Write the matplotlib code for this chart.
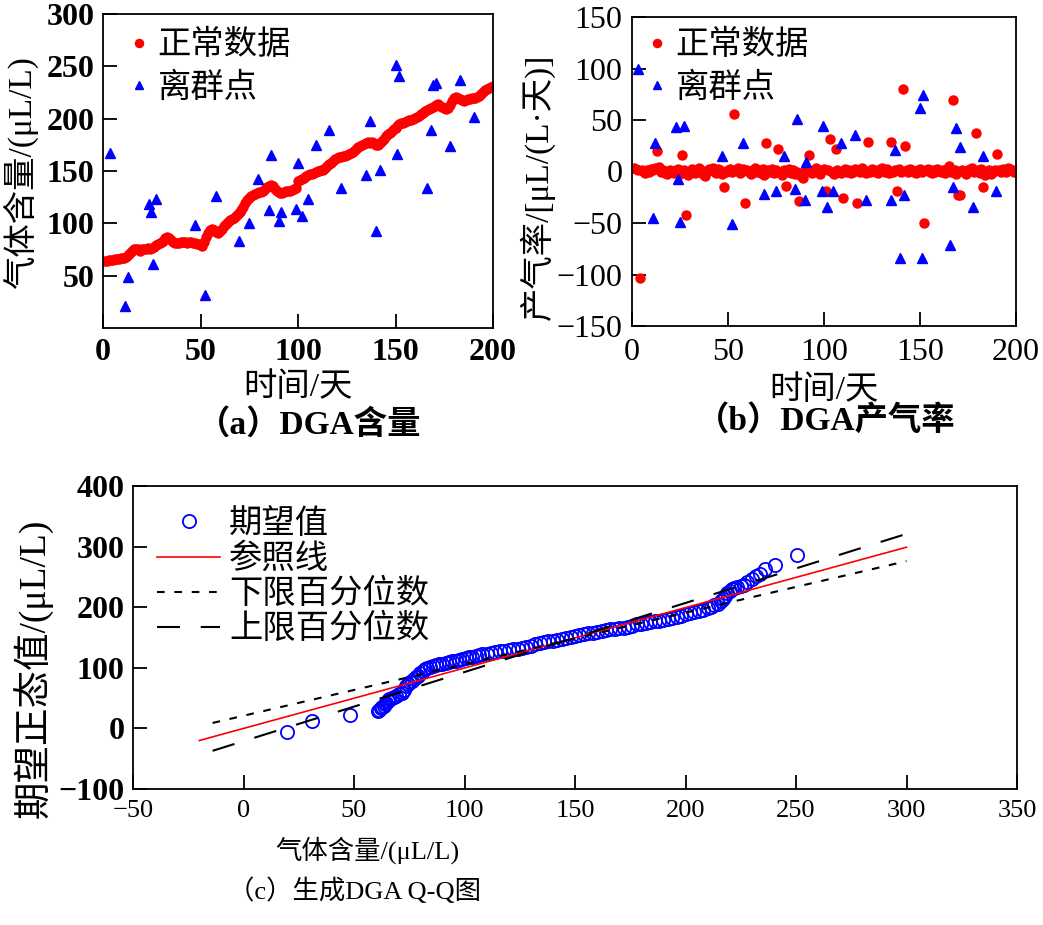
import numpy as np
import matplotlib
matplotlib.use('Agg')
import matplotlib.pyplot as plt

plt.rcParams['font.family'] = ['Liberation Serif', 'Noto Sans CJK SC']
plt.rcParams['axes.unicode_minus'] = True
plt.rcParams['lines.scale_dashes'] = False

# ---- data ----
days = np.arange(1, 201)

# (a) gas content, normal data, one value per day
content_normal = [
    64, 64, 65, 65, 65, 66, 66, 66, 67, 67,
    67, 68, 70, 72, 74, 75, 75, 75, 74, 75,
    75, 75, 76, 75, 76, 77, 79, 80, 81, 82,
    83, 86, 87, 86, 84, 82, 81, 81, 81, 82,
    82, 82, 81, 82, 82, 81, 81, 80, 80, 79,
    78, 82, 87, 91, 94, 95, 94, 92, 91, 93,
    95, 97, 99, 101, 103, 104, 105, 107, 109, 111,
    113, 116, 119, 122, 124, 126, 127, 128, 129, 130,
    130, 131, 133, 135, 136, 137, 136, 133, 131, 130,
    129, 129, 130, 131, 131, 131, 132, 133, 134, 140,
    141, 142, 143, 145, 146, 147, 147, 148, 149, 150,
    150, 151, 151, 153, 155, 157, 158, 160, 161, 162,
    163, 163, 164, 164, 165, 166, 167, 168, 170, 172,
    173, 174, 175, 176, 177, 178, 177, 178, 177, 175,
    175, 177, 179, 181, 183, 185, 186, 188, 190, 191,
    193, 195, 196, 196, 197, 198, 199, 199, 200, 201,
    202, 203, 204, 205, 207, 208, 209, 210, 211, 212,
    213, 214, 212, 211, 210, 209, 210, 213, 217, 220,
    221, 220, 219, 218, 217, 218, 219, 219, 220, 220,
    220, 221, 222, 224, 225, 227, 228, 229, 230, 231,
]
content_out_x = [3.4, 12.6, 11.4, 23.4, 24.6, 27.3, 25.4, 47.4, 52.4, 58,
                 69.5, 75, 79.4, 85.3, 86.3, 90.4, 91.3, 99, 100, 102,
                 105, 109, 116, 122, 135, 137, 140, 142, 150, 152,
                 151, 166, 168, 169, 171, 178, 183, 190]
content_out_y = [167, 49, 21, 118, 111, 123, 61, 98, 32, 126,
                 83, 100, 142, 113, 165, 102, 111, 114, 158, 107,
                 123, 175, 189, 134, 146, 198, 93, 151, 251, 241,
                 166, 134, 189, 232, 234, 174, 237, 202]

# (b) gas production rate, normal data, one value per day
rate_normal = [
    3, 2, 1, -103, 1, 0, -1, 1, 0, 2,
    1, 3, 20, 4, 0, 1, -1, -2, 0, 1,
    0, -1, 1, 2, -2, 16, 1, -42, -3, 0,
    2, 1, -1, 0, 3, 1, -2, -4, 0, 2,
    1, 3, 0, -1, 2, 1, -2, -15, 0, 1,
    2, 0, 56, 1, 3, -1, 0, 2, -31, 1,
    0, -2, 1, 3, 0, 1, -1, 2, -3, 28,
    1, 0, 2, -1, 1, 22, 0, -3, 1, -14,
    0, 2, -1, 1, -2, 0, -29, -4, -6, 1,
    2, 16, 0, -1, 1, 3, 0, -2, 1, 2,
    -19, 1, 32, 0, -2, 22, 1, 0, -1, -26,
    2, 0, 1, -1, 0, 2, -31, 1, 0, 3,
    1, -1, 28.5, 0, 2, 1, 0, -1, 2, 3,
    1, 0, 2, -1, 29, 0, 1, -19, 2, 0,
    80, 25, 1, 0, 2, 1, 0, -1, 1, 2,
    0, -50, 1, 2, 0, -1, 1, 0, 2, 1,
    0, 1, -1, 2, 5, 0, 69, 1, -2, -23,
    -23, 1, 0, -2, 1, 2, 3, 0, 37, 1,
    -1, 2, -15, -3, 0, 1, -2, 0, 1, 17,
    1, 0, 2, 1, 0, 3, 2, 1, 0, 1,
]
rate_out_x = [3, 10.8, 11.8, 23, 27, 24, 24.8, 47, 52, 58,
              69, 75, 79, 84.7, 85.8, 90, 90.8, 98.8, 99.7, 101.7,
              104.9, 108.7, 116, 121.7, 135, 136.8, 139.8, 141.8, 150, 150.9,
              151.7, 165.5, 167.4, 168.6, 170.7, 177.6, 182.6, 189.6]
rate_out_y = [100, -45, 28, 43, 44, -7, -49, 15, -51, 28,
              -22, -19, 15, -17, 51, -28, 9, -19, 44, -34,
              -19, 28, 35, -28, -28, 21, -84, -23, 62, -84,
              74, -71, -15, 42, 24, -34, 15, -19]

# (c) Q-Q plot
qq_x = [19.8, 31.1, 48.3, 60.8, 61.5, 62.3, 62.8, 63.4, 63.9, 64.5,
        65.2, 66.0, 67.0, 68.0, 69.0, 70.3, 71.5, 72.8, 73.6, 74.5,
        75.3, 76.2, 77.0, 78.0, 79.0, 80.0, 81.0, 82.0, 83.2, 84.5,
        85.8, 87.0, 88.5, 90.0, 91.5, 93.0, 94.5, 96.0, 97.5, 99.0,
        100.5, 102.0, 103.5, 105.0, 106.5, 108.0, 110.0, 112.0, 114.0, 116.0,
        118, 120, 122, 124, 126, 128, 130, 132, 134, 136,
        138, 140, 142, 144, 146, 148, 150, 152, 154, 156,
        158, 160, 162, 164, 166, 168, 170, 172, 174, 176,
        178, 180, 182, 184, 186, 188, 190, 192, 194, 196,
        198, 200, 202, 204, 206, 208, 210, 211.5, 213, 214.5,
        216, 217, 218, 219, 220, 221, 222, 223.5, 225, 226.5,
        228, 230, 232, 233.5, 236, 240.5, 250.3]
qq_y = [-6.6, 11.5, 22, 28, 30.5, 33, 35, 37.5, 40, 42.5,
        45, 48, 50, 52, 54, 56, 58, 63, 70, 74,
        77, 79, 81, 84, 87, 91, 95, 97.5, 100, 102,
        103.5, 104.5, 105.5, 107, 108, 109, 110.5, 111.5, 113, 114,
        115.5, 117, 118.5, 120, 121, 122, 123.5, 124.5, 126, 127.5,
        128.5, 129.5, 130.5, 131.5, 133, 134.5, 136.5, 138.5, 140.5, 142,
        143.5, 145, 146.5, 148, 149.5, 151, 152.5, 154, 155.5, 157,
        158, 159.5, 161, 162.5, 164, 164.5, 165.5, 166, 167.5, 169.5,
        171.5, 173, 174, 175, 176.5, 178, 179.5, 181, 183, 184,
        186, 188, 190, 191.5, 193.5, 196, 198.5, 200.5, 203, 206,
        210, 213, 218, 223, 227, 230, 232, 233, 234.5, 237,
        241, 246, 251, 255, 263, 269, 285.6]
ref_x, ref_y = [-20, 300], [-20, 299]
low_x, low_y = [-14, 300], [9, 276]
up_x, up_y = [-14, 300], [-37, 321]

TICK_FS = 23
LAB_FS = 24

fig = plt.figure(figsize=(10.43, 9.25), dpi=100)
W, H = 1043.0, 925.0


def box(l, t, r, b):
    return [l / W, 1 - b / H, (r - l) / W, (b - t) / H]


def style(ax, pad_x, pad_y, bold_x, bold_y, fs_x=TICK_FS, fs_y=TICK_FS):
    ax.tick_params(direction='in', length=10, width=1.3, top=False, right=False)
    ax.tick_params(axis='x', pad=pad_x, labelsize=fs_x)
    ax.tick_params(axis='y', pad=pad_y, labelsize=fs_y)
    for s in ax.spines.values():
        s.set_linewidth(1.3)
    for t in ax.get_xticklabels():
        t.set_fontweight('bold' if bold_x else 'normal')
    for t in ax.get_yticklabels():
        t.set_fontweight('bold' if bold_y else 'normal')


# ---- (a) ----
ax1 = fig.add_axes(box(103, 14, 493, 328))
ax1.plot(days, content_normal, 'o', color='red', ms=6.5, mec='red', label='正常数据')
ax1.plot(content_out_x, content_out_y, '^', color='blue', ms=6.5, label='离群点')
ax1.set_xlim(0, 200)
ax1.set_ylim(0, 300)
ax1.set_xticks([0, 50, 100, 150, 200])
ax1.set_yticks([50, 100, 150, 200, 250, 300])
style(ax1, 7, 6, True, True)
ax1.set_xlabel('时间/天', fontsize=LAB_FS, va='center')
ax1.xaxis.set_label_coords(298 / W, 1 - 388 / H, transform=fig.transFigure)
ax1.set_ylabel('气体含量/(μL/L)', fontsize=LAB_FS, va='center')
ax1.yaxis.set_label_coords(20 / W, 1 - 173 / H, transform=fig.transFigure)
ax1.legend(loc='upper left', bbox_to_anchor=(0.059, 0.949), frameon=False,
           fontsize=LAB_FS, handlelength=0.8, handletextpad=0.15,
           labelspacing=0.33, borderpad=0, borderaxespad=0, markerscale=0.9)
fig.text(309 / W, 1 - 425 / H, '（a）DGA含量', fontsize=LAB_FS, fontweight='bold',
         ha='center', va='center')

# ---- (b) ----
ax2 = fig.add_axes(box(632, 17, 1016, 326))
ax2.plot(days, rate_normal, 'o', color='red', ms=6.5, mec='red', label='正常数据')
ax2.plot(rate_out_x, rate_out_y, '^', color='blue', ms=6.5, label='离群点')
ax2.set_xlim(0, 200)
ax2.set_ylim(-150, 150)
ax2.set_xticks([0, 50, 100, 150, 200])
ax2.set_yticks([-150, -100, -50, 0, 50, 100, 150])
style(ax2, 9, 7, False, False)
ax2.set_xlabel('时间/天', fontsize=LAB_FS, va='center')
ax2.xaxis.set_label_coords(824 / W, 1 - 391 / H, transform=fig.transFigure)
ax2.set_ylabel('产气率/[μL/(L·天)]', fontsize=LAB_FS, va='center')
ax2.yaxis.set_label_coords(537 / W, 1 - 187 / H, transform=fig.transFigure)
ax2.legend(loc='upper left', bbox_to_anchor=(0.031, 0.957), frameon=False,
           fontsize=LAB_FS, handlelength=0.8, handletextpad=0.15,
           labelspacing=0.33, borderpad=0, borderaxespad=0, markerscale=0.9)
fig.text(826 / W, 1 - 421 / H, '（b）DGA产气率', fontsize=LAB_FS, fontweight='bold',
         ha='center', va='center')

# ---- (c) ----
ax3 = fig.add_axes(box(133, 486, 1017, 789))
ax3.plot(qq_x, qq_y, 'o', mfc='none', mec='blue', ms=9.5, mew=1.3, label='期望值')
ax3.plot(ref_x, ref_y, '-', color='red', lw=1.2, label='参照线')
ax3.plot(low_x, low_y, color='black', lw=1.5, dashes=(5.5, 7), label='下限百分位数')
ax3.plot(up_x, up_y, color='black', lw=1.5, dashes=(16.5, 15), label='上限百分位数')
ax3.set_xlim(-50, 350)
ax3.set_ylim(-100, 400)
ax3.set_xticks(np.arange(-50, 351, 50))
ax3.set_yticks(np.arange(-100, 401, 100))
style(ax3, 8, 6, False, True, fs_x=19)
ax3.set_xlabel('气体含量/(μL/L)', fontsize=19, va='center')
ax3.xaxis.set_label_coords(367 / W, 1 - 850 / H, transform=fig.transFigure)
ax3.set_ylabel('期望正态值/(μL/L)', fontsize=27, va='center')
ax3.yaxis.set_label_coords(33 / W, 1 - 668 / H, transform=fig.transFigure)
ax3.legend(loc='upper left', bbox_to_anchor=(0.027, 0.924), frameon=False,
           fontsize=LAB_FS, handlelength=1.9, handletextpad=0.27,
           labelspacing=0.11, borderpad=0, borderaxespad=0)
fig.text(354 / W, 1 - 891 / H, '（c）生成DGA Q-Q图', fontsize=19,
         ha='center', va='center')

fig.savefig('out.png', dpi=100)
